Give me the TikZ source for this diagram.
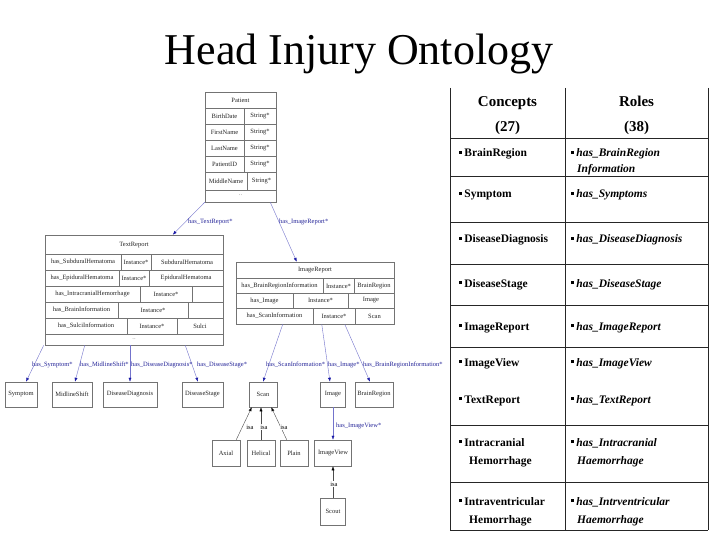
\documentclass[tikz,border=0pt]{standalone}
\usepackage{fontspec}
\setmainfont{Liberation Serif}
\usetikzlibrary{arrows.meta,calc}
\definecolor{boxgray}{gray}{0.45}
\definecolor{edgeblue}{rgb}{0.45,0.45,0.8}
\definecolor{tipblue}{rgb}{0.1,0.1,0.65}
\definecolor{lblblue}{rgb}{0.15,0.15,0.6}
\newcommand{\bul}{\rule[3pt]{2.7pt}{2.7pt}\hspace{2.5pt}}
\begin{document}
\begin{tikzpicture}[x=1pt,y=-1pt,
  box/.style={draw=boxgray, line width=0.5pt, inner sep=0pt, rectangle},
  boxline/.style={draw=boxgray, line width=0.4pt},
  txt/.style={inner sep=0pt, font=\fontsize{6.5}{7}\selectfont, text=black!85},
  lbl/.style={inner sep=0pt, anchor=west, font=\fontsize{6.5}{7}\selectfont, text=lblblue},
  rel/.style={draw=edgeblue, line width=0.4pt, -{Latex[length=4pt,width=3pt,color=tipblue]}},
  isarel/.style={draw=black!70, line width=0.4pt, -{Latex[length=4pt,width=3pt,color=black]}},
  isalbl/.style={inner sep=0.8pt, fill=white, font=\fontsize{6.5}{7}\selectfont},
  cell/.style={inner sep=0pt, anchor=base west, font=\fontsize{11.5}{13}\selectfont\bfseries},
  role/.style={inner sep=0pt, anchor=base west, font=\fontsize{11.5}{13}\selectfont\bfseries\itshape},
  head/.style={inner sep=0pt, anchor=base, font=\fontsize{15}{17}\selectfont\bfseries},
  grid/.style={draw=black!85, line width=0.8pt}
]
\fill[white] (0,0) rectangle (720,540);
\useasboundingbox (0,0) rectangle (720,540);

% Title
\node[font=\fontsize{44}{48}\selectfont, anchor=base, inner sep=0pt] (title) at (359,65) {Head Injury Ontology};

% ---------- Patient ----------
\node[box, minimum width=71pt, minimum height=110pt] (patient) at (240.5,147) {};
\foreach \y in {108,124,140,156,172,190} \draw[boxline] (205,\y) -- (276,\y);
\foreach \y in {108,124,140,156} \draw[boxline] (244,\y) -- (244,\y+16);
\draw[boxline] (247,172) -- (247,190);
\node[txt] (pT) at (240.5,100) {Patient};
\node[txt] (p1a) at (224.5,116) {BirthDate};  \node[txt] (p1b) at (260,116) {String*};
\node[txt] (p2a) at (224.5,132) {FirstName};  \node[txt] (p2b) at (260,132) {String*};
\node[txt] (p3a) at (224.5,148) {LastName};   \node[txt] (p3b) at (260,148) {String*};
\node[txt] (p4a) at (224.5,164) {PatientID};  \node[txt] (p4b) at (260,164) {String*};
\node[txt] (p5a) at (226,181) {MiddleName};   \node[txt] (p5b) at (261.5,181) {String*};
\node[txt, text=black!45] (pdots) at (240.5,195) {..};

% ---------- TextReport ----------
\node[box, minimum width=178pt, minimum height=110pt] (tr) at (134,290) {};
\foreach \y in {254,270,286,302,318,334} \draw[boxline] (45,\y) -- (223,\y);
\foreach \y/\a/\b in {254/121/151, 270/119/149, 286/140/192, 302/118/188, 318/127/177}
  {\draw[boxline] (\a,\y) -- (\a,\y+16); \draw[boxline] (\b,\y) -- (\b,\y+16);}
\node[txt] (tT) at (134,245) {TextReport};
\node[txt] (t1a) at (83,262) {has\_SubduralHematoma}; \node[txt] (t1b) at (136,262) {Instance*}; \node[txt] (t1c) at (187,262) {SubduralHematoma};
\node[txt] (t2a) at (82,278) {has\_EpiduralHematoma}; \node[txt] (t2b) at (134,278) {Instance*}; \node[txt] (t2c) at (186,278) {EpiduralHematoma};
\node[txt] (t3a) at (92.5,294) {has\_IntracranialHemorrhage}; \node[txt] (t3b) at (166,294) {Instance*};
\node[txt] (t4a) at (81.5,310) {has\_BrainInformation}; \node[txt] (t4b) at (153,310) {Instance*};
\node[txt] (t5a) at (86,326) {has\_SulciInformation}; \node[txt] (t5b) at (152,326) {Instance*}; \node[txt] (t5c) at (200,326) {Sulci};
\node[txt, text=black!45] (tdots) at (134,339) {..};

% ---------- ImageReport ----------
\node[box, minimum width=158pt, minimum height=62pt] (ir) at (315,293) {};
\foreach \y in {278,293,308} \draw[boxline] (236,\y) -- (394,\y);
\foreach \y/\h/\a/\b in {278/15/323/354, 293/15/293/348, 308/16/313/355}
  {\draw[boxline] (\a,\y) -- (\a,\y+\h); \draw[boxline] (\b,\y) -- (\b,\y+\h);}
\node[txt] (iT) at (315,270) {ImageReport};
\node[txt] (i1a) at (279.5,286) {has\_BrainRegionInformation}; \node[txt] (i1b) at (338.5,286) {Instance*}; \node[txt] (i1c) at (374,286) {BrainRegion};
\node[txt] (i2a) at (264.5,300.5) {has\_Image}; \node[txt] (i2b) at (320.5,300.5) {Instance*}; \node[txt] (i2c) at (371,300.5) {Image};
\node[txt] (i3a) at (274.5,316) {has\_ScanInformation}; \node[txt] (i3b) at (334,316) {Instance*}; \node[txt] (i3c) at (374.5,316) {Scan};

% ---------- leaf concepts ----------
\node[box, txt, draw=boxgray, minimum width=32pt, minimum height=25pt] (symptom) at (21,394.5) {Symptom};
\node[box, txt, draw=boxgray, minimum width=40pt, minimum height=25pt] (midline) at (72,394.5) {MidlineShift};
\node[box, txt, draw=boxgray, minimum width=54pt, minimum height=25pt] (dd) at (130,394.5) {DiseaseDiagnosis};
\node[box, txt, draw=boxgray, minimum width=41pt, minimum height=25pt] (ds) at (202.5,394.5) {DiseaseStage};
\node[box, txt, draw=boxgray, minimum width=28pt, minimum height=25pt] (scan) at (263,394.5) {Scan};
\node[box, txt, draw=boxgray, minimum width=25pt, minimum height=25pt] (image) at (333,394.5) {Image};
\node[box, txt, draw=boxgray, minimum width=38pt, minimum height=25pt] (brain) at (374,394.5) {BrainRegion};
\node[box, txt, draw=boxgray, minimum width=28pt, minimum height=26pt] (axial) at (226,453) {Axial};
\node[box, txt, draw=boxgray, minimum width=28pt, minimum height=26pt] (helical) at (261,453) {Helical};
\node[box, txt, draw=boxgray, minimum width=28pt, minimum height=26pt] (plain) at (294,453) {Plain};
\node[box, txt, draw=boxgray, minimum width=37pt, minimum height=26pt] (imageview) at (333,453) {ImageView};
\node[box, txt, draw=boxgray, minimum width=25pt, minimum height=27pt] (scout) at (333,511.5) {Scout};

% ---------- relations ----------
\draw[rel] (patient.south west) -- ($(tr.north west)+(128,0)$);
\draw[rel] ($(patient.south east)+(-6,0)$) -- ($(ir.north west)+(61,0)$);
\draw[rel] ($(tr.south west)+(-1,0)$) -- ($(symptom.north)+(5,0)$);
\draw[rel] ($(tr.south west)+(40,0)$) -- ($(midline.north)+(3,0)$);
\draw[rel] ($(tr.south)+(-4,0)$) -- (dd.north);
\draw[rel] ($(tr.south east)+(-38,0)$) -- ($(ds.north)+(-4.5,0)$);
\draw[rel] ($(ir.south west)+(47,0)$) -- (scan.north);
\draw[rel] ($(ir.south west)+(86,0)$) -- ($(image.north)+(-3,0)$);
\draw[rel] ($(ir.south west)+(109,0)$) -- ($(brain.north)+(-4,0)$);
\draw[rel] (image.south) -- (imageview.north);

\node[lbl] (l1) at (188,222) {has\_TextReport*};
\node[lbl] (l2) at (279,222) {has\_ImageReport*};
\node[lbl] (l3) at (32,365) {has\_Symptom*};
\node[lbl] (l4) at (80,365) {has\_MidlineShift*};
\node[lbl] (l5) at (131,365) {has\_DiseaseDiagnosis*};
\node[lbl] (l6) at (197,365) {has\_DiseaseStage*};
\node[lbl] (l7) at (266,365) {has\_ScanInformation*};
\node[lbl] (l8) at (328,365) {has\_Image*};
\node[lbl] (l9) at (363,365) {has\_BrainRegionInformation*};
\node[lbl] (l10) at (336,426) {has\_ImageView*};

% ---------- isa ----------
\draw[isarel] ($(axial.north east)+(-4,0)$) -- ($(scan.south west)+(3,0)$);
\draw[isarel] (helical.north) -- ($(scan.south)+(-2,0)$);
\draw[isarel] ($(plain.north west)+(7,0)$) -- ($(scan.south east)+(-6,0)$);
\draw[isarel] (scout.north) -- (imageview.south);
\node[isalbl] (s1) at (250,427) {isa};
\node[isalbl] (s2) at (264,427) {isa};
\node[isalbl] (s3) at (284,427) {isa};
\node[isalbl] (s4) at (334,484) {isa};

% ---------- table ----------
\foreach \x in {450,565,708} \draw[grid] (\x,88) -- (\x,530);
\foreach \y in {138,176,222,264,305,347,425,482,530} \draw[grid] (450,\y) -- (708,\y);
\node[head] (hc1) at (507.5,107) {Concepts};
\node[head] (hc2) at (507.5,132) {(27)};
\node[head] (hr1) at (636.5,107) {Roles};
\node[head] (hr2) at (636.5,132) {(38)};

\node[cell] (c1) at (459,157) {\bul BrainRegion};
\node[role] (r1) at (571,157) {\bul has\_BrainRegion};
\node[role] (r1b) at (577,173) {Information};
\node[cell] (c2) at (459,198) {\bul Symptom};
\node[role] (r2) at (571,198) {\bul has\_Symptoms};
\node[cell] (c3) at (459,243) {\bul DiseaseDiagnosis};
\node[role] (r3) at (571,243) {\bul has\_DiseaseDiagnosis};
\node[cell] (c4) at (459,287) {\bul DiseaseStage};
\node[role] (r4) at (571,287) {\bul has\_DiseaseStage};
\node[cell] (c5) at (459,330) {\bul ImageReport};
\node[role] (r5) at (571,330) {\bul has\_ImageReport};
\node[cell] (c6) at (459,366) {\bul ImageView};
\node[role] (r6) at (571,366) {\bul has\_ImageView};
\node[cell] (c7) at (459,403) {\bul TextReport};
\node[role] (r7) at (571,403) {\bul has\_TextReport};
\node[cell] (c8) at (459,446) {\bul Intracranial};
\node[cell] (c8b) at (469,464) {Hemorrhage};
\node[role] (r8) at (571,446) {\bul has\_Intracranial};
\node[role] (r8b) at (577,464) {Haemorrhage};
\node[cell] (c9) at (459,505) {\bul Intraventricular};
\node[cell] (c9b) at (469,523) {Hemorrhage};
\node[role] (r9) at (571,505) {\bul has\_Intrventricular};
\node[role] (r9b) at (577,523) {Haemorrhage};
\end{tikzpicture}
\end{document}
